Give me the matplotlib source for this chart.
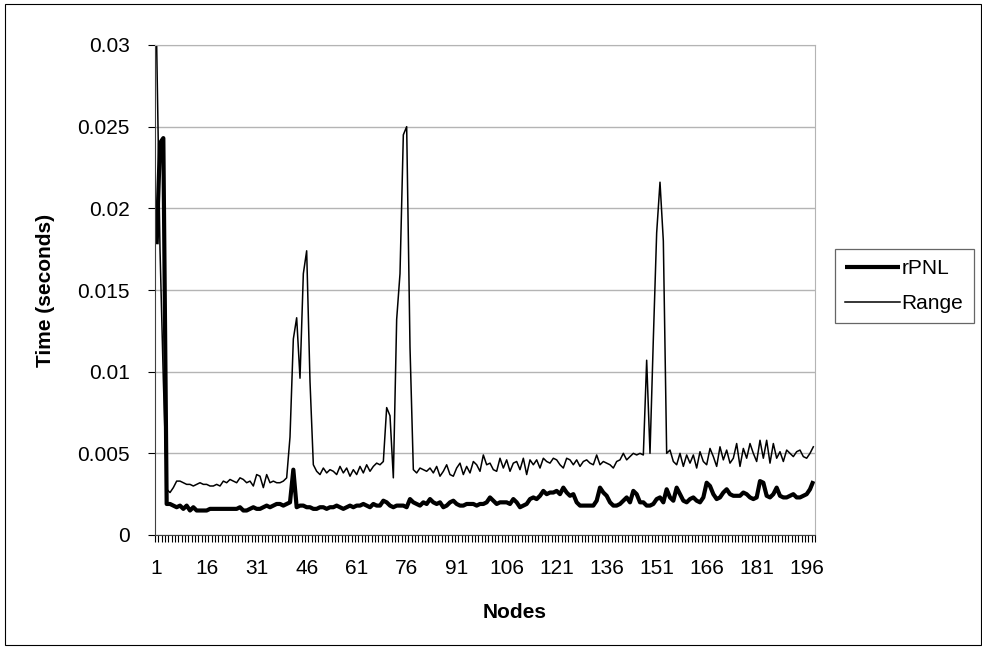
import matplotlib
matplotlib.use("Agg")
import matplotlib.pyplot as plt
from matplotlib.patches import Rectangle
import numpy as np

plt.rcParams["font.family"] = ["Liberation Sans", "DejaVu Sans"]

# --------------------------------------------------
# Data (values in milliseconds / 1000 -> seconds)
# --------------------------------------------------
rpnl_ms = [
    17.8, 24.0, 24.3, 1.9, 1.9, 1.8, 1.7, 1.8, 1.6, 1.8,
    1.5, 1.7, 1.5, 1.5, 1.5, 1.5, 1.6, 1.6, 1.6, 1.6,
    1.6, 1.6, 1.6, 1.6, 1.6, 1.7, 1.5, 1.5, 1.6, 1.7,
    1.6, 1.6, 1.7, 1.8, 1.7, 1.8, 1.9, 1.9, 1.8, 1.9,
    2.0, 4.0, 1.7, 1.8, 1.8, 1.7, 1.7, 1.6, 1.6, 1.7,
    1.7, 1.6, 1.7, 1.7, 1.8, 1.7, 1.6, 1.7, 1.8, 1.7,
    1.8, 1.8, 1.9, 1.8, 1.7, 1.9, 1.8, 1.8, 2.1, 2.0,
    1.8, 1.7, 1.8, 1.8, 1.8, 1.7, 2.2, 2.0, 1.9, 1.8,
    2.0, 1.9, 2.2, 2.0, 1.9, 2.0, 1.7, 1.8, 2.0, 2.1,
    1.9, 1.8, 1.8, 1.9, 1.9, 1.9, 1.8, 1.9, 1.9, 2.0,
    2.3, 2.1, 1.9, 2.0, 2.0, 2.0, 1.9, 2.2, 2.0, 1.7,
    1.8, 1.9, 2.2, 2.3, 2.2, 2.4, 2.7, 2.5, 2.6, 2.6,
    2.7, 2.5, 2.9, 2.6, 2.4, 2.5, 2.0, 1.8, 1.8, 1.8,
    1.8, 1.8, 2.1, 2.9, 2.6, 2.4, 2.0, 1.8, 1.8, 1.9,
    2.1, 2.3, 2.0, 2.7, 2.5, 2.0, 2.0, 1.8, 1.8, 1.9,
    2.2, 2.3, 2.0, 2.8, 2.3, 2.1, 2.9, 2.5, 2.1, 2.0,
    2.2, 2.3, 2.1, 2.0, 2.3, 3.2, 3.0, 2.5, 2.2, 2.3,
    2.6, 2.8, 2.5, 2.4, 2.4, 2.4, 2.6, 2.5, 2.3, 2.2,
    2.3, 3.3, 3.2, 2.4, 2.3, 2.5, 2.9, 2.4, 2.3, 2.3,
    2.4, 2.5, 2.3, 2.3, 2.4, 2.5, 2.8, 3.3,
]

range_ms = [
    30.0, 17.5, 9.5, 2.8, 2.6, 2.9, 3.3, 3.3, 3.2, 3.1,
    3.1, 3.0, 3.1, 3.2, 3.1, 3.1, 3.0, 3.0, 3.1, 3.0,
    3.3, 3.2, 3.4, 3.3, 3.2, 3.5, 3.4, 3.2, 3.3, 3.0,
    3.7, 3.6, 2.9, 3.7, 3.2, 3.3, 3.2, 3.2, 3.3, 3.5,
    6.0, 12.0, 13.3, 9.6, 16.0, 17.4, 9.4, 4.3, 3.9, 3.7,
    4.1, 3.8, 4.0, 3.9, 3.7, 4.2, 3.8, 4.1, 3.6, 4.0,
    3.7, 4.2, 3.8, 4.3, 3.9, 4.2, 4.4, 4.3, 4.5, 7.8,
    7.3, 3.5, 13.2, 16.0, 24.5, 25.0, 11.5, 4.0, 3.8, 4.1,
    4.0, 3.9, 4.1, 3.8, 4.2, 3.6, 3.9, 4.3, 3.7, 3.6,
    4.1, 4.4, 3.7, 4.2, 3.8, 4.5, 4.3, 3.9, 4.9, 4.3,
    4.4, 4.0, 3.9, 4.7, 4.1, 4.6, 3.9, 4.4, 4.5, 4.0,
    4.7, 3.7, 4.6, 4.3, 4.6, 4.1, 4.7, 4.5, 4.4, 4.7,
    4.6, 4.3, 4.1, 4.7, 4.6, 4.3, 4.6, 4.2, 4.5, 4.6,
    4.4, 4.3, 4.9, 4.3, 4.5, 4.4, 4.3, 4.1, 4.5, 4.6,
    5.0, 4.6, 4.8, 5.0, 4.9, 5.0, 4.9, 10.7, 5.0, 12.0,
    18.5, 21.6, 18.0, 5.0, 5.2, 4.5, 4.3, 5.0, 4.2, 4.9,
    4.4, 4.9, 4.1, 5.1, 4.5, 4.3, 5.3, 4.8, 4.2, 5.4,
    4.6, 5.2, 4.4, 4.7, 5.6, 4.2, 5.3, 4.7, 5.6, 5.0,
    4.5, 5.8, 4.7, 5.8, 4.4, 5.6, 4.7, 5.1, 4.5, 5.2,
    5.0, 4.8, 5.1, 5.2, 4.8, 4.7, 5.0, 5.4,
]

nodes = np.arange(1, len(rpnl_ms) + 1)
rpnl = np.array(rpnl_ms) / 1000.0
rng = np.array(range_ms) / 1000.0

y_ticks = [0, 0.005, 0.01, 0.015, 0.02, 0.025, 0.03]
y_labels = ["0", "0.005", "0.01", "0.015", "0.02", "0.025", "0.03"]
x_label_nodes = list(range(1, 197, 15))

FS = 15

# --------------------------------------------------
# Plot
# --------------------------------------------------
fig = plt.figure(figsize=(9.82, 6.48), dpi=100)
ax = fig.add_axes([155 / 982, 113 / 648, 660 / 982, 490 / 648])

ax.plot(nodes, rpnl, color="black", linewidth=3.0, label="rPNL",
        solid_joinstyle="round", solid_capstyle="butt")
ax.plot(nodes, rng, color="black", linewidth=1.1, label="Range")

ax.set_xlim(0.5, len(nodes) + 0.5)
ax.set_ylim(0, 0.03)

ax.set_yticks(y_ticks)
ax.set_yticklabels(y_labels, fontsize=FS)
ax.yaxis.grid(True, color="#b4b4b4", linewidth=1.0)
ax.set_axisbelow(True)

ax.set_xticks(x_label_nodes)
ax.set_xticklabels([str(n) for n in x_label_nodes], fontsize=FS)
ax.set_xticks(np.arange(0.5, len(nodes) + 1, 1.0), minor=True)
ax.tick_params(axis="x", which="major", length=0, pad=17)
ax.tick_params(axis="x", which="minor", length=5, width=0.8, direction="out")
ax.tick_params(axis="y", length=5, width=0.8, direction="out", pad=13)

for side in ["top", "right"]:
    ax.spines[side].set_color("#b4b4b4")
ax.spines["left"].set_color("#404040")
ax.spines["bottom"].set_color("#404040")

# axis titles
fig.text(515 / 982, 1 - 612 / 648, "Nodes", fontsize=FS, fontweight="bold",
         ha="center", va="center")
fig.text(46 / 982, 1 - 290 / 648, "Time (seconds)", fontsize=FS,
         fontweight="bold", rotation=90, ha="center", va="center")

leg = fig.legend(loc="upper left", bbox_to_anchor=(835 / 982, 1 - 249 / 648),
                 fontsize=FS, frameon=True, fancybox=False,
                 edgecolor="#404040", handlelength=2.6, handletextpad=0.1,
                 borderpad=0.5, labelspacing=0.75, borderaxespad=0)
leg.get_frame().set_linewidth(0.9)

# outer chart border
fig.patches.append(Rectangle((5 / 982, 3 / 648), 976 / 982, 641 / 648,
                             transform=fig.transFigure, fill=False,
                             edgecolor="black", linewidth=0.8))

plt.savefig("out.png", dpi=100)
plt.close()
